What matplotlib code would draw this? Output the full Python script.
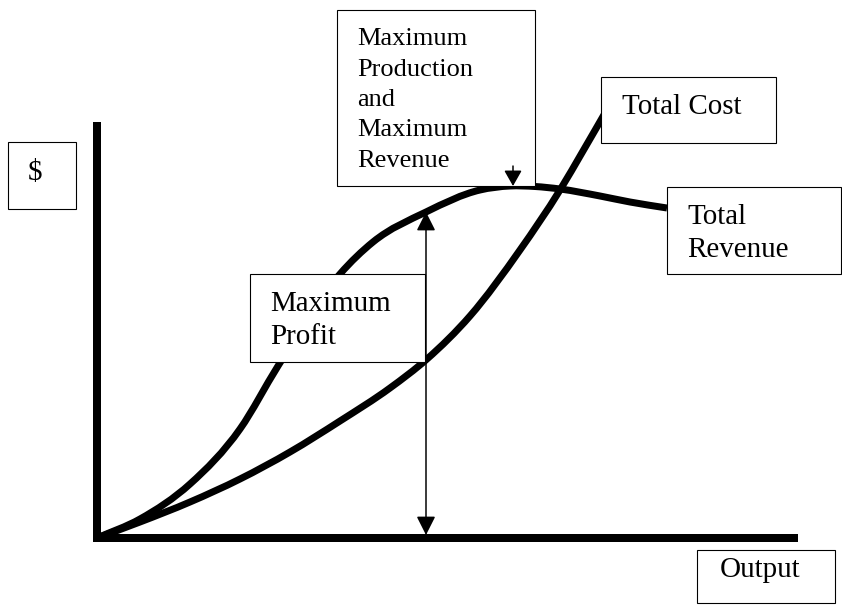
import matplotlib
matplotlib.use("Agg")
import matplotlib.pyplot as plt
from matplotlib.patches import Rectangle, FancyArrowPatch, PathPatch
from matplotlib.path import Path

# ---- data (output units, dollar units; origin at the axes corner) ----
tr_output = [0, 43, 93, 143, 181, 243, 276, 329, 383, 413, 438, 463, 503, 533, 570]
tr_dollars = [0, 19, 54, 109, 172, 264, 296, 326, 348, 352, 351.5, 349, 342, 336, 330]
tc_output = [0, 43, 93, 143, 193, 243, 293, 330, 373, 423, 463, 486, 508]
tc_dollars = [0, 16, 36, 59, 86, 117, 150, 179, 222, 288, 348, 387, 425]
profit_output = 329          # output level of maximum profit
max_rev_output = 416         # output level of maximum revenue
max_rev_dollars = 352

labels_tr = ["Total", "Revenue"]
labels_tc = ["Total Cost"]
labels_profit = ["Maximum", "Profit"]
labels_maxrev = ["Maximum", "Production", "and", "Maximum", "Revenue"]
label_y = ["$"]
label_x = ["Output"]

# ---- figure: pixel-like frame, origin at (97, 538) px ----
W, H = 842, 605
OX, OY = 97, 538
fig = plt.figure(figsize=(W / 100, H / 100), dpi=100)
ax = fig.add_axes([0, 0, 1, 1])
ax.set_xlim(-OX, W - OX)
ax.set_ylim(OY - H, OY)
ax.axis("off")

def X(px):
    return px - OX

def Y(py):
    return OY - py

FONT = "Liberation Serif"
LW_AX = 8 * 0.72
LW_CURVE = 7 * 0.72
LW_BOX = 1.1 * 0.72

# axes
ax.plot([0, 0], [Y(541), Y(122)], color="black", lw=LW_AX, solid_capstyle="butt", zorder=3)
ax.plot([X(93), X(798)], [0, 0], color="black", lw=LW_AX, solid_capstyle="butt", zorder=3)

# smooth curves through the read points (cubic Hermite in x, drawn as Bezier path)
def smooth_path(xs, ys):
    n = len(xs)
    h = [xs[i + 1] - xs[i] for i in range(n - 1)]
    d = [(ys[i + 1] - ys[i]) / h[i] for i in range(n - 1)]
    m = [0.0] * n
    m[0] = d[0]
    m[-1] = d[-1]
    for i in range(1, n - 1):
        m[i] = (h[i - 1] * d[i] + h[i] * d[i - 1]) / (h[i - 1] + h[i])
    verts = [(xs[0], ys[0])]
    codes = [Path.MOVETO]
    for i in range(n - 1):
        c1 = (xs[i] + h[i] / 3.0, ys[i] + m[i] * h[i] / 3.0)
        c2 = (xs[i + 1] - h[i] / 3.0, ys[i + 1] - m[i + 1] * h[i] / 3.0)
        verts += [c1, c2, (xs[i + 1], ys[i + 1])]
        codes += [Path.CURVE4] * 3
    return Path(verts, codes)

for xs, ys in ((tr_output, tr_dollars), (tc_output, tc_dollars)):
    ax.add_patch(PathPatch(smooth_path(xs, ys), facecolor="none", edgecolor="black",
                           lw=LW_CURVE, capstyle="butt", joinstyle="round", zorder=2))

# boxes
def box(x0, y0, x1, y1):
    ax.add_patch(Rectangle((X(x0), Y(y1)), x1 - x0, y1 - y0, facecolor="white",
                           edgecolor="black", lw=LW_BOX, zorder=4))

def lines(xpx, baselines, texts, size):
    for t, b in zip(texts, baselines):
        ax.text(X(xpx), Y(b), t, fontsize=size, family=FONT, ha="left",
                va="baseline", zorder=6)

box(8, 142, 76, 209)
lines(28, [180], label_y, 20.9)

box(337, 10, 535, 186)
lines(357, [45, 75.5, 106, 136.5, 167], labels_maxrev, 19)

box(601, 77, 776, 143)
lines(622, [114], labels_tc, 20.9)

box(667, 187, 841, 274)
lines(687, [224, 257], labels_tr, 20.9)

box(250, 274, 425, 362)
lines(270, [311, 344], labels_profit, 20.9)

box(697, 550, 835, 603)
lines(720, [577], label_x, 20.9)

# maximum profit double arrow
arr = FancyArrowPatch((profit_output, 3), (profit_output, tr_dollars[7]),
                      arrowstyle="<|-|>,head_length=11.5,head_width=5.8",
                      mutation_scale=1, shrinkA=0, shrinkB=0, color="black",
                      lw=1.5 * 0.72, zorder=5)
ax.add_patch(arr)

# maximum revenue small arrow
arr2 = FancyArrowPatch((max_rev_output, Y(166)), (max_rev_output, max_rev_dollars),
                       arrowstyle="-|>,head_length=9.5,head_width=5.4",
                       mutation_scale=1, shrinkA=0, shrinkB=0, color="black",
                       lw=1.5 * 0.72, zorder=5)
ax.add_patch(arr2)

fig.savefig("out.png", dpi=100, facecolor="white")
